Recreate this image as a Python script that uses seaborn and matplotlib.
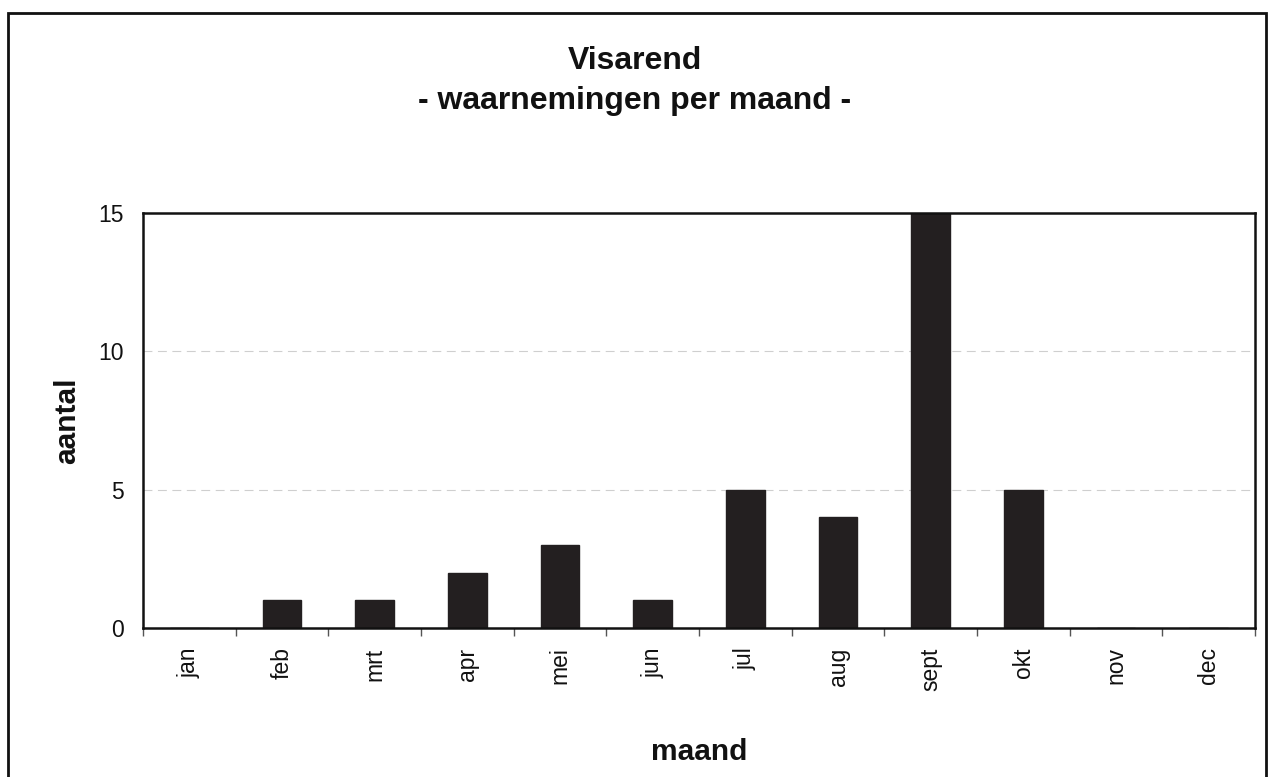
import numpy as np
import pandas as pd
import matplotlib
matplotlib.use("Agg")
import matplotlib.pyplot as plt
import seaborn as sns
from matplotlib.patches import Rectangle

maanden = ["jan", "feb", "mrt", "apr", "mei", "jun", "jul", "aug", "sept", "okt", "nov", "dec"]
aantal = [0, 1, 1, 2, 3, 1, 5, 4, 15, 5, 0, 0]
y_ticks = [0, 5, 10, 15]

df = pd.DataFrame({"maand": maanden, "aantal": aantal})

sns.set_theme(style="white")
plt.rcParams["font.family"] = ["Liberation Sans", "DejaVu Sans"]

fig = plt.figure(figsize=(12.69, 7.77), dpi=100)
ax = fig.add_axes([0.1127, 0.1918, 0.8763, 0.5341])

sns.barplot(data=df, x="maand", y="aantal", color="#231f20", width=0.42,
            saturation=1, ax=ax, edgecolor="#231f20")

ax.set_ylim(0, 15)
ax.set_xlim(-0.5, len(maanden) - 0.5)
ax.set_yticks(y_ticks)
ax.set_yticklabels([str(t) for t in y_ticks], fontsize=16.5, color="#111111")
ax.tick_params(axis="y", length=0, pad=14)
ax.tick_params(axis="x", which="major", length=0, pad=14, labelsize=16.5,
               labelrotation=90, labelcolor="#111111")
ax.set_xticks(np.arange(-0.5, len(maanden), 1), minor=True)
ax.tick_params(axis="x", which="minor", length=6, width=1, color="#555555",
               direction="out", bottom=True)

for v in [5, 10]:
    ax.axhline(v, color="#cfcfcf", lw=0.8, ls=(0, (8, 5)), zorder=0)

for s in ax.spines.values():
    s.set_color("#111111")
    s.set_linewidth(1.8)

ax.set_xlabel("maand", fontsize=21.5, fontweight="bold", labelpad=34, color="#111111")
ax.set_ylabel("aantal", fontsize=21.5, fontweight="bold", labelpad=12, color="#111111")

fig.text(0.5, 0.921, "Visarend", ha="center", va="center", fontsize=23,
         fontweight="bold", color="#111111")
fig.text(0.5, 0.870, "- waarnemingen per maand -", ha="center", va="center",
         fontsize=23, fontweight="bold", color="#111111")

fig.patches.append(Rectangle((0.0063, -0.02), 0.991, 1.003, transform=fig.transFigure,
                             fill=False, edgecolor="#111111", linewidth=2))

fig.savefig("out.png", dpi=100, facecolor="white")
